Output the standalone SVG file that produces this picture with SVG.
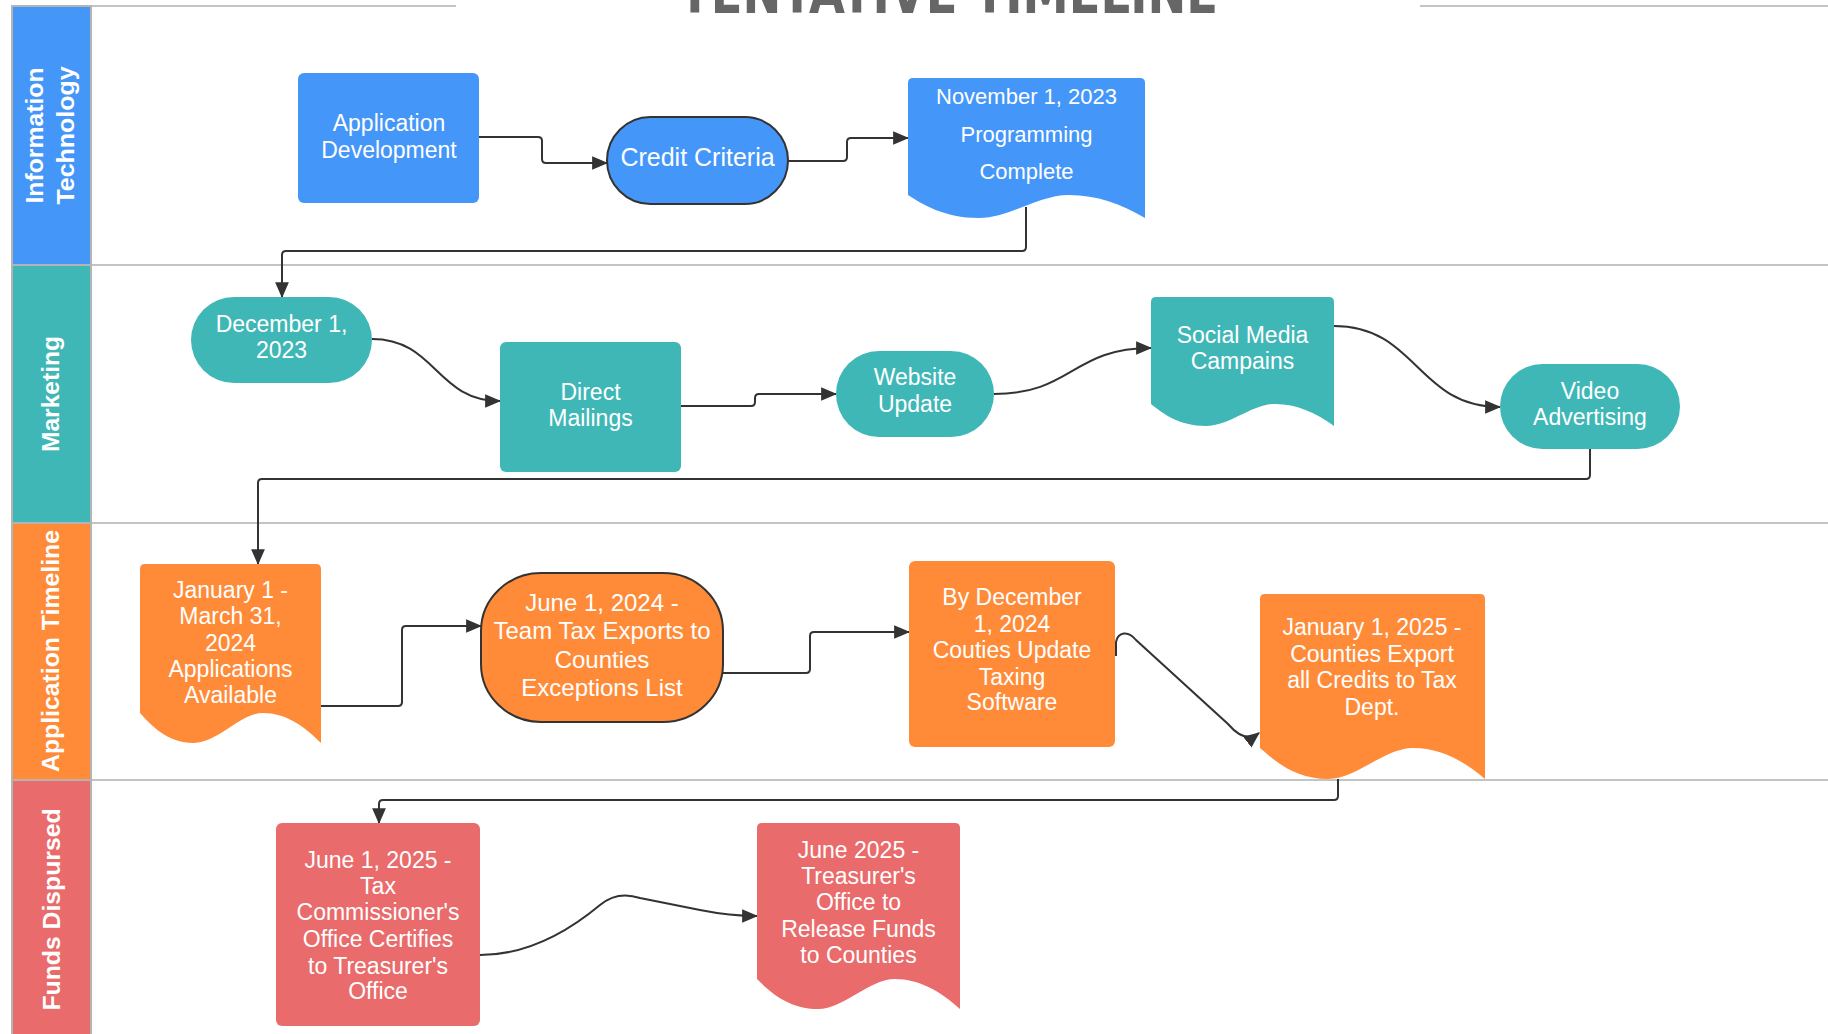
<svg xmlns="http://www.w3.org/2000/svg" width="1828" height="1034" viewBox="0 0 1828 1034">
<style>
.lane{stroke:#c4c4c4;stroke-width:2;fill:none}
.hdr{stroke:#b4b4b4;stroke-width:2}
.htxt{font-family:"Liberation Sans",Arial,sans-serif;font-weight:bold;font-size:24.5px;fill:#fff;text-anchor:middle}
.t{font-family:"Liberation Sans",Arial,sans-serif;font-size:23px;fill:#fff;text-anchor:middle;dominant-baseline:central;transform:translateY(-1.5px)}
.blue{fill:#4596f9}
.teal{fill:#40b7b7}
.orange{fill:#ff8b39}
.red{fill:#e96b6b}
.bd{stroke:#333;stroke-width:2}
.c{fill:none;stroke:#333;stroke-width:2;marker-end:url(#arr)}
.title{font-family:"DejaVu Sans Condensed","DejaVu Sans",sans-serif;font-weight:bold;font-size:58px;fill:#666;text-anchor:middle}
</style>
<defs>
<marker id="arr" markerUnits="userSpaceOnUse" markerWidth="16" markerHeight="14" viewBox="0 0 14 12" refX="13" refY="6" orient="auto">
<path d="M0,0 L14,6 L0,12 Z" fill="#333"/>
</marker>
</defs>
<rect width="1828" height="1034" fill="#fff"/>
<g id="title">
<text class="title" x="948.5" y="12.5" textLength="539" lengthAdjust="spacingAndGlyphs">TENTATIVE TIMELINE</text>
</g>
<g id="lanes">
<line class="lane" x1="12" y1="6" x2="456" y2="6"/>
<line class="lane" x1="1420" y1="6" x2="1828" y2="6"/>
<line class="lane" x1="12" y1="265" x2="1828" y2="265"/>
<line class="lane" x1="12" y1="523" x2="1828" y2="523"/>
<line class="lane" x1="12" y1="780" x2="1828" y2="780"/>
</g>
<g id="lane-it">
<rect class="hdr blue" x="12" y="6" width="79" height="259"/>
<text class="htxt" transform="translate(43,135.5) rotate(-90)" textLength="136" lengthAdjust="spacingAndGlyphs">Information</text>
<text class="htxt" transform="translate(74,135.5) rotate(-90)" textLength="138" lengthAdjust="spacingAndGlyphs">Technology</text>
</g>
<g id="lane-marketing">
<rect class="hdr teal" x="12" y="265" width="79" height="258"/>
<text class="htxt" transform="translate(59,394) rotate(-90)" textLength="116" lengthAdjust="spacingAndGlyphs">Marketing</text>
</g>
<g id="lane-application">
<rect class="hdr orange" x="12" y="523" width="79" height="257"/>
<text class="htxt" transform="translate(59,651) rotate(-90)" textLength="242" lengthAdjust="spacingAndGlyphs">Application Timeline</text>
</g>
<g id="lane-funds">
<rect class="hdr red" x="12" y="780" width="79" height="260"/>
<text class="htxt" transform="translate(60,909.5) rotate(-90)" textLength="202" lengthAdjust="spacingAndGlyphs">Funds Dispursed</text>
</g>
<g id="connectors">
<path class="c" d="M479,137 H538 Q542,137 542,141 V159 Q542,163 546,163 H607"/>
<path class="c" d="M788,161 H843 Q847,161 847,157 V142 Q847,138 851,138 H908"/>
<path class="c" d="M1026,207 V247 Q1026,251 1022,251 H286 Q282,251 282,255 V297"/>
<path class="c" d="M372,339 C436,339 436,401 500,401"/>
<path class="c" d="M681,406 H751 Q755,406 755,402 V398 Q755,394 759,394 H836"/>
<path class="c" d="M994,394 C1072,394 1072,348 1151,348"/>
<path class="c" d="M1334,326 C1417,326 1417,407 1500,407"/>
<path class="c" d="M1590,449 V475 Q1590,479 1586,479 H262 Q258,479 258,483 V564"/>
<path class="c" d="M321,706 H398 Q402,706 402,702 V630 Q402,626 406,626 H481"/>
<path class="c" d="M723,673 H806 Q810,673 810,669 V636 Q810,632 814,632 H909"/>
<path class="c" d="M1116,656 V642 C1118,632 1128,630 1136,640 L1228,724 C1240,738 1250,740 1259,733"/>
<path class="c" d="M1338,779 V796 Q1338,800 1334,800 H383 Q379,800 379,804 V823"/>
<path class="c" d="M480,955 C530,955 570,930 600,905 C612,895 625,893 640,898 L700,910 C720,914 735,916 757,916"/>
</g>
<g id="n-appdev">
<rect class="blue" x="298" y="73" width="181" height="130" rx="6"/>
<text class="t" x="389" y="124">Application</text>
<text class="t" x="389" y="151">Development</text>
</g>
<g id="n-credit">
<rect class="blue bd" x="607" y="117" width="181" height="87" rx="43.5"/>
<text class="t" x="697.5" y="158" style="font-size:25px">Credit Criteria</text>
</g>
<g id="n-nov">
<path class="blue" d="M908,195 V83 Q908,78 913,78 H1140 Q1145,78 1145,83 V218 C1121,204 1097,195 1069,195 C1038,195 1010,218 979,218 C944,218 922,204 908,195 Z"/>
<text class="t" x="1026.5" y="98" style="font-size:22px">November 1, 2023</text>
<text class="t" x="1026.5" y="136" style="font-size:22px">Programming</text>
<text class="t" x="1026.5" y="173" style="font-size:22px">Complete</text>
</g>
<g id="n-dec">
<rect class="teal" x="191" y="297" width="181" height="86" rx="43"/>
<text class="t" x="281.5" y="325">December 1,</text>
<text class="t" x="281.5" y="351">2023</text>
</g>
<g id="n-mail">
<rect class="teal" x="500" y="342" width="181" height="130" rx="6"/>
<text class="t" x="590.5" y="393">Direct</text>
<text class="t" x="590.5" y="419">Mailings</text>
</g>
<g id="n-web">
<rect class="teal" x="836" y="351" width="158" height="86" rx="43"/>
<text class="t" x="915" y="378">Website</text>
<text class="t" x="915" y="405">Update</text>
</g>
<g id="n-social">
<path class="teal" d="M1151,404 V302 Q1151,297 1156,297 H1329 Q1334,297 1334,302 V426 C1316,413 1297,404 1275,404 C1252,404 1230,426 1206,426 C1179,426 1162,413 1151,404 Z"/>
<text class="t" x="1242.5" y="336">Social Media</text>
<text class="t" x="1242.5" y="362">Campains</text>
</g>
<g id="n-video">
<rect class="teal" x="1500" y="364" width="180" height="85" rx="42.5"/>
<text class="t" x="1590" y="392">Video</text>
<text class="t" x="1590" y="418">Advertising</text>
</g>
<g id="n-jan24">
<path class="orange" d="M140,713 V569 Q140,564 145,564 H316 Q321,564 321,569 V743 C303,725 285,713 263,713 C240,713 218,743 194,743 C167,743 151,725 140,713 Z"/>
<text class="t" x="230.5" y="591">January 1 -</text>
<text class="t" x="230.5" y="617">March 31,</text>
<text class="t" x="230.5" y="644">2024</text>
<text class="t" x="230.5" y="670">Applications</text>
<text class="t" x="230.5" y="696">Available</text>
</g>
<g id="n-jun24">
<rect class="orange bd" x="481" y="573" width="242" height="149" rx="60" ry="58"/>
<text class="t" x="602" y="604" style="font-size:24px">June 1, 2024 -</text>
<text class="t" x="602" y="632" style="font-size:24px">Team Tax Exports to</text>
<text class="t" x="602" y="661" style="font-size:24px">Counties</text>
<text class="t" x="602" y="689" style="font-size:24px">Exceptions List</text>
</g>
<g id="n-dec24">
<rect class="orange" x="909" y="561" width="206" height="186" rx="6"/>
<text class="t" x="1012" y="598">By December</text>
<text class="t" x="1012" y="625">1, 2024</text>
<text class="t" x="1012" y="651">Couties Update</text>
<text class="t" x="1012" y="678">Taxing</text>
<text class="t" x="1012" y="703">Software</text>
</g>
<g id="n-jan25">
<path class="orange" d="M1260,748 V599 Q1260,594 1265,594 H1480 Q1485,594 1485,599 V779 C1463,760 1440,748 1413,748 C1384,748 1357,779 1328,779 C1294,779 1274,760 1260,748 Z"/>
<text class="t" x="1372" y="628">January 1, 2025 -</text>
<text class="t" x="1372" y="655">Counties Export</text>
<text class="t" x="1372" y="681">all Credits to Tax</text>
<text class="t" x="1372" y="708">Dept.</text>
</g>
<g id="n-jun25a">
<rect class="red" x="276" y="823" width="204" height="203" rx="6"/>
<text class="t" x="378" y="861">June 1, 2025 -</text>
<text class="t" x="378" y="887">Tax</text>
<text class="t" x="378" y="913">Commissioner's</text>
<text class="t" x="378" y="940">Office Certifies</text>
<text class="t" x="378" y="967">to Treasurer's</text>
<text class="t" x="378" y="992">Office</text>
</g>
<g id="n-jun25b">
<path class="red" d="M757,979 V828 Q757,823 762,823 H955 Q960,823 960,828 V1009 C940,991 919,979 895,979 C869,979 844,1009 818,1009 C788,1009 769,991 757,979 Z"/>
<text class="t" x="858.5" y="851">June 2025 -</text>
<text class="t" x="858.5" y="877">Treasurer's</text>
<text class="t" x="858.5" y="903">Office to</text>
<text class="t" x="858.5" y="930">Release Funds</text>
<text class="t" x="858.5" y="956">to Counties</text>
</g>
</svg>
